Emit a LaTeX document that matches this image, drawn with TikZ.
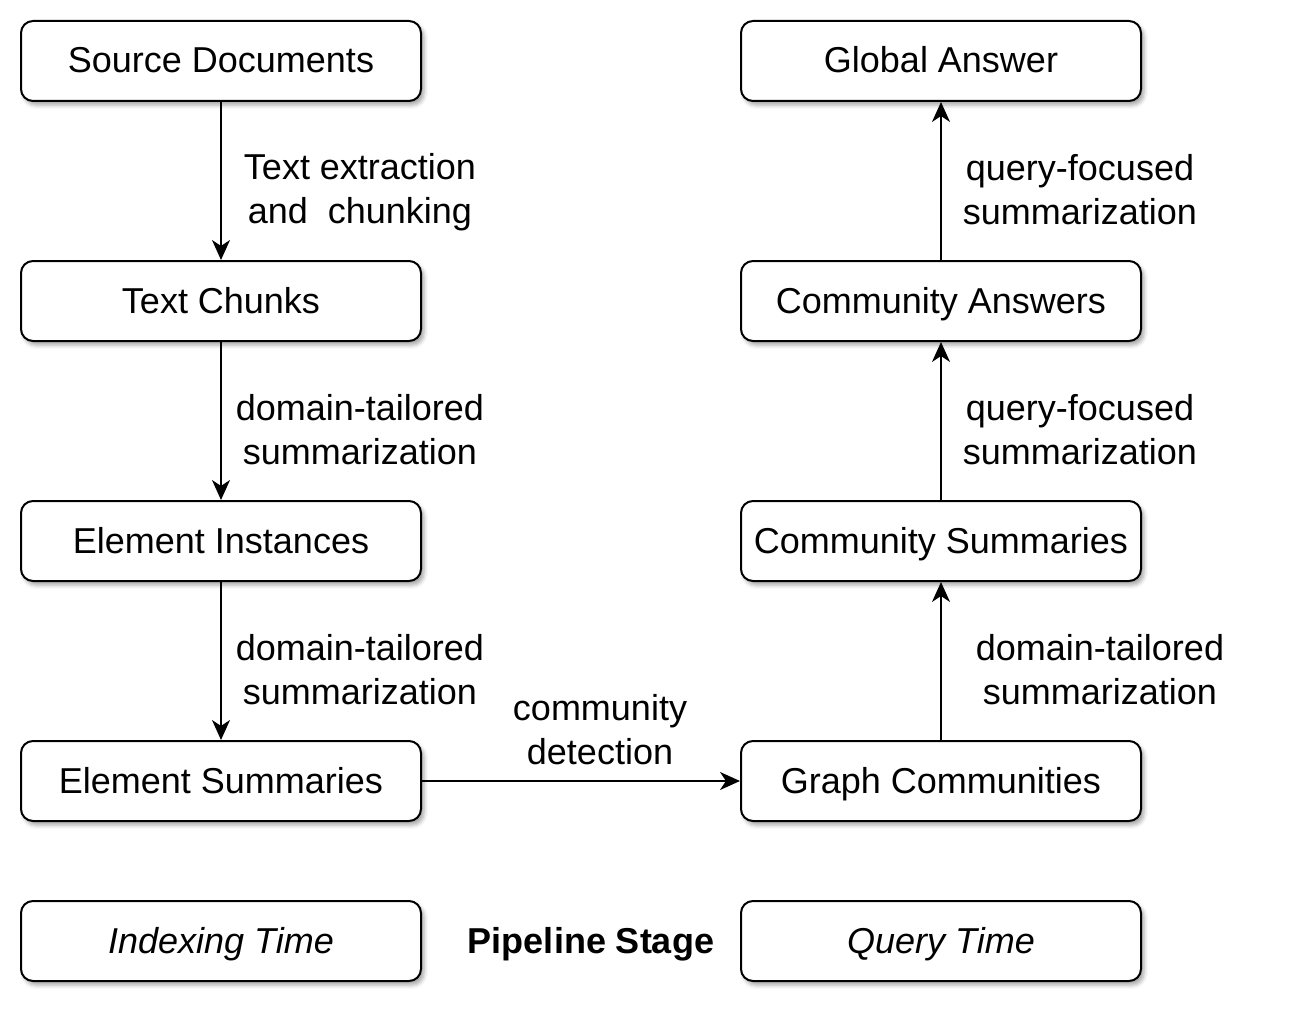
\documentclass[tikz,border=0pt]{standalone}
\usepackage{fontspec}
\setmainfont{Liberation Sans}
\usetikzlibrary{shadows.blur,arrows.meta}
\begin{document}
\begin{tikzpicture}[x=1pt,y=-1pt,
  box/.style={draw=black, line width=2pt, rounded corners=12pt, fill=white,
    minimum width=400pt, minimum height=80pt, inner sep=0pt,
    text height=31pt, text depth=7pt,
    font=\fontsize{36}{43}\selectfont,
    blur shadow={shadow xshift=3pt,shadow yshift=-4pt,shadow blur radius=4pt,shadow opacity=35}},
  lbl/.style={align=center, inner sep=0pt, font=\fontsize{36}{44}\selectfont},
  arr/.style={line width=2pt, arrows={-Stealth[length=20pt,width=18pt,inset=6pt]}}]
\useasboundingbox (0,0) rectangle (1294,1014);
% left column
\node[box] (src)    at (221,61)  {Source Documents};
\node[box] (chunks) at (221,301) {Text Chunks};
\node[box] (inst)   at (221,541) {Element Instances};
\node[box] (esum)   at (221,781) {Element Summaries};
\node[box] (idx)    at (221,941) {\itshape Indexing Time};
% right column
\node[box] (glob)   at (941,61)  {Global Answer};
\node[box] (cans)   at (941,301) {Community Answers};
\node[box] (csum)   at (941,541) {Community Summaries};
\node[box] (gcom)   at (941,781) {Graph Communities};
\node[box] (qt)     at (941,941) {\itshape Query Time};
% legend middle
\node[lbl, text height=31pt, text depth=7pt, font=\fontsize{36}{44}\selectfont\bfseries] (stage) at (591,941) {Pipeline Stage};
% connectors
\draw[arr] (src) -- (chunks);
\draw[arr] (chunks) -- (inst);
\draw[arr] (inst) -- (esum);
\draw[arr] (esum) -- (gcom);
\draw[arr] (gcom) -- (csum);
\draw[arr] (csum) -- (cans);
\draw[arr] (cans) -- (glob);
% labels
\node[lbl] (l1) at (360,192) {Text extraction\\and\ \ chunking};
\node[lbl] (l2) at (360,430) {domain-tailored\\summarization};
\node[lbl] (l3) at (360,670) {domain-tailored\\summarization};
\node[lbl] (l4) at (600,730) {community\\detection};
\node[lbl] (l5) at (1100,670) {domain-tailored\\summarization};
\node[lbl] (l6) at (1080,430) {query-focused\\summarization};
\node[lbl] (l7) at (1080,190) {query-focused\\summarization};
\end{tikzpicture}
\end{document}
